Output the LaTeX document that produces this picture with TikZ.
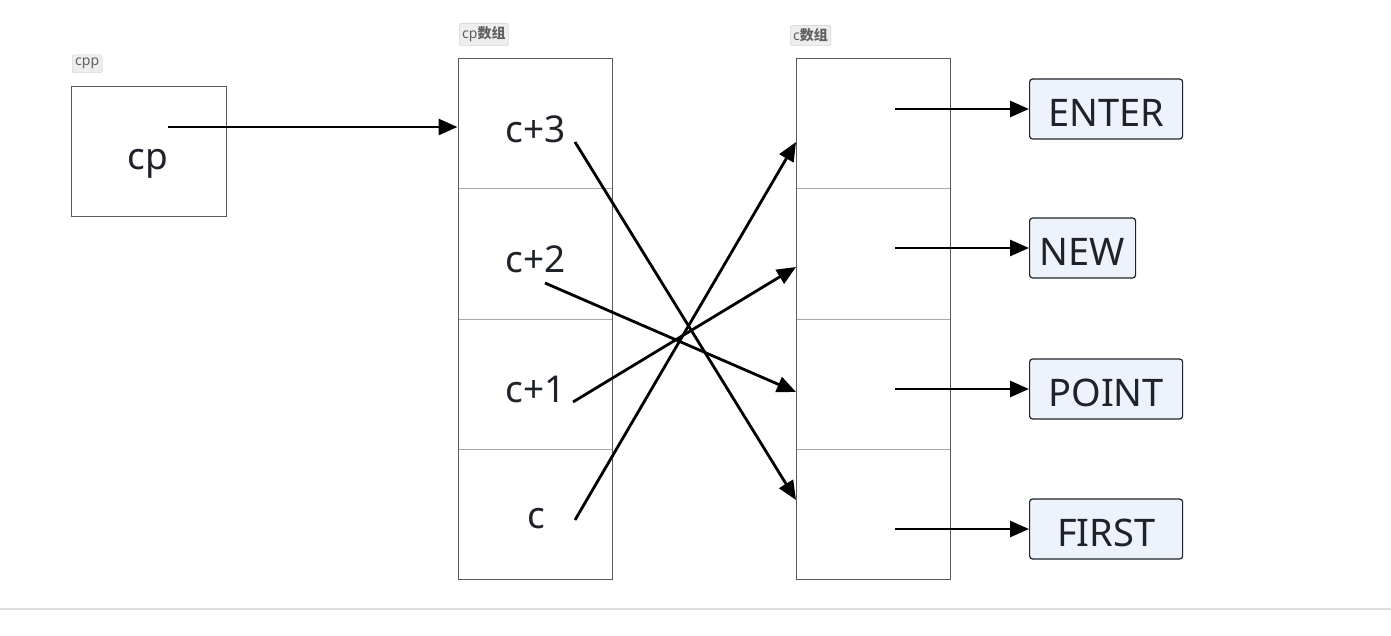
\documentclass[tikz,border=0pt]{standalone}
\usepackage{fontspec}
\setmainfont{Noto Sans}
\newfontfamily\cjk{Noto Sans CJK SC}
\usetikzlibrary{arrows.meta}
\definecolor{txt}{HTML}{1F2329}
\definecolor{divline}{HTML}{A8A8A8}
\definecolor{outline}{HTML}{5A5A5A}
\definecolor{strfill}{HTML}{EEF2FB}
\definecolor{tagfill}{HTML}{EDEEF0}
\definecolor{tagline}{HTML}{C8CACD}
\begin{document}
\begin{tikzpicture}[x=1pt,y=-1pt,
  cell/.style={draw=divline, line width=1pt, minimum width=154pt, minimum height=130pt, inner sep=0pt},
  celltext/.style={font=\fontsize{37}{37}\selectfont, text=txt, inner sep=0pt},
  outerbox/.style={draw=outline, line width=1pt},
  strbox/.style={draw=txt, line width=1.2pt, fill=strfill, rounded corners=3pt, minimum height=60pt, inner sep=0pt, font=\fontsize{38}{38}\selectfont, text=txt},
  strtext/.style={font=\fontsize{38}{38}\selectfont, text=txt, inner sep=0pt, text height=27pt, text depth=0pt},
  tag/.style={draw=tagline, fill=tagfill, rounded corners=2.5pt, inner xsep=3pt, inner ysep=3.5pt, font=\bfseries\fontsize{14}{14}\selectfont, text=black!62},
  arr/.style={line width=2.8pt, -{Triangle[length=19pt,width=16pt]}}
]
\useasboundingbox (0,0) rectangle (1391,636);

% cpp
\node[outerbox, minimum width=155pt, minimum height=130pt, inner sep=0pt] (cpp) at (148.5,152) {};
\node[celltext] (cptext) at (148,164) {cp};
\node[tag, anchor=south west] (cpptag) at (72,73) {cpp};

% cp array
\foreach \i/\t in {0/c+3,1/c+2,2/c+1,3/c} {
  \node[cell] (p\i) at (535,124+130*\i) {};
  \node[celltext] (pt\i) at (536,129+130*\i) {\t};
}
\draw[outerbox] (458,59) rectangle (612,579);
\node[tag, anchor=south west] (cptag) at (459,46) {cp{\cjk 数组}};

% c array
\foreach \i in {0,1,2,3} {
  \node[cell] (q\i) at (873,124+130*\i) {};
}
\draw[outerbox] (796,59) rectangle (950,579);
\node[tag, anchor=south west] (ctag) at (790,46) {c{\cjk 数组}};

% strings
\foreach \i/\t/\w/\y in {0/ENTER/153/109,1/NEW/106/248,2/POINT/153/389,3/FIRST/153/529} {
  \node[strbox, anchor=west, minimum width=\w pt] (s\i) at (1029,\y) {};
  \node[strtext] (st\i) at ([yshift=-4pt]s\i.center) {\t};
}

% coordinates
\coordinate (cpS) at (168,127);
\coordinate (p0S) at (575,142);
\coordinate (p1S) at (545,283);
\coordinate (p2S) at (573,402);
\coordinate (p3S) at (575,520);
\coordinate (q0E) at (796,142);
\coordinate (q1E) at (796,267);
\coordinate (q2E) at (796,392);
\coordinate (q3E) at (796,500);
\foreach \i/\y in {0/109,1/248,2/389,3/529} {
  \coordinate (q\i S) at (895,\y);
}

\draw[arr] (cpS) -- (cpS -| p0.west);
\draw[arr] (p0S) -- (q3E);
\draw[arr] (p1S) -- (q2E);
\draw[arr] (p2S) -- (q1E);
\draw[arr] (p3S) -- (q0E);
\foreach \i in {0,1,2,3} {
  \draw[arr] (q\i S) -- (s\i.west);
}

% bottom line
\draw[line width=2.5pt, draw=black!13] (0,609) -- (1391,609);
\end{tikzpicture}
\end{document}
